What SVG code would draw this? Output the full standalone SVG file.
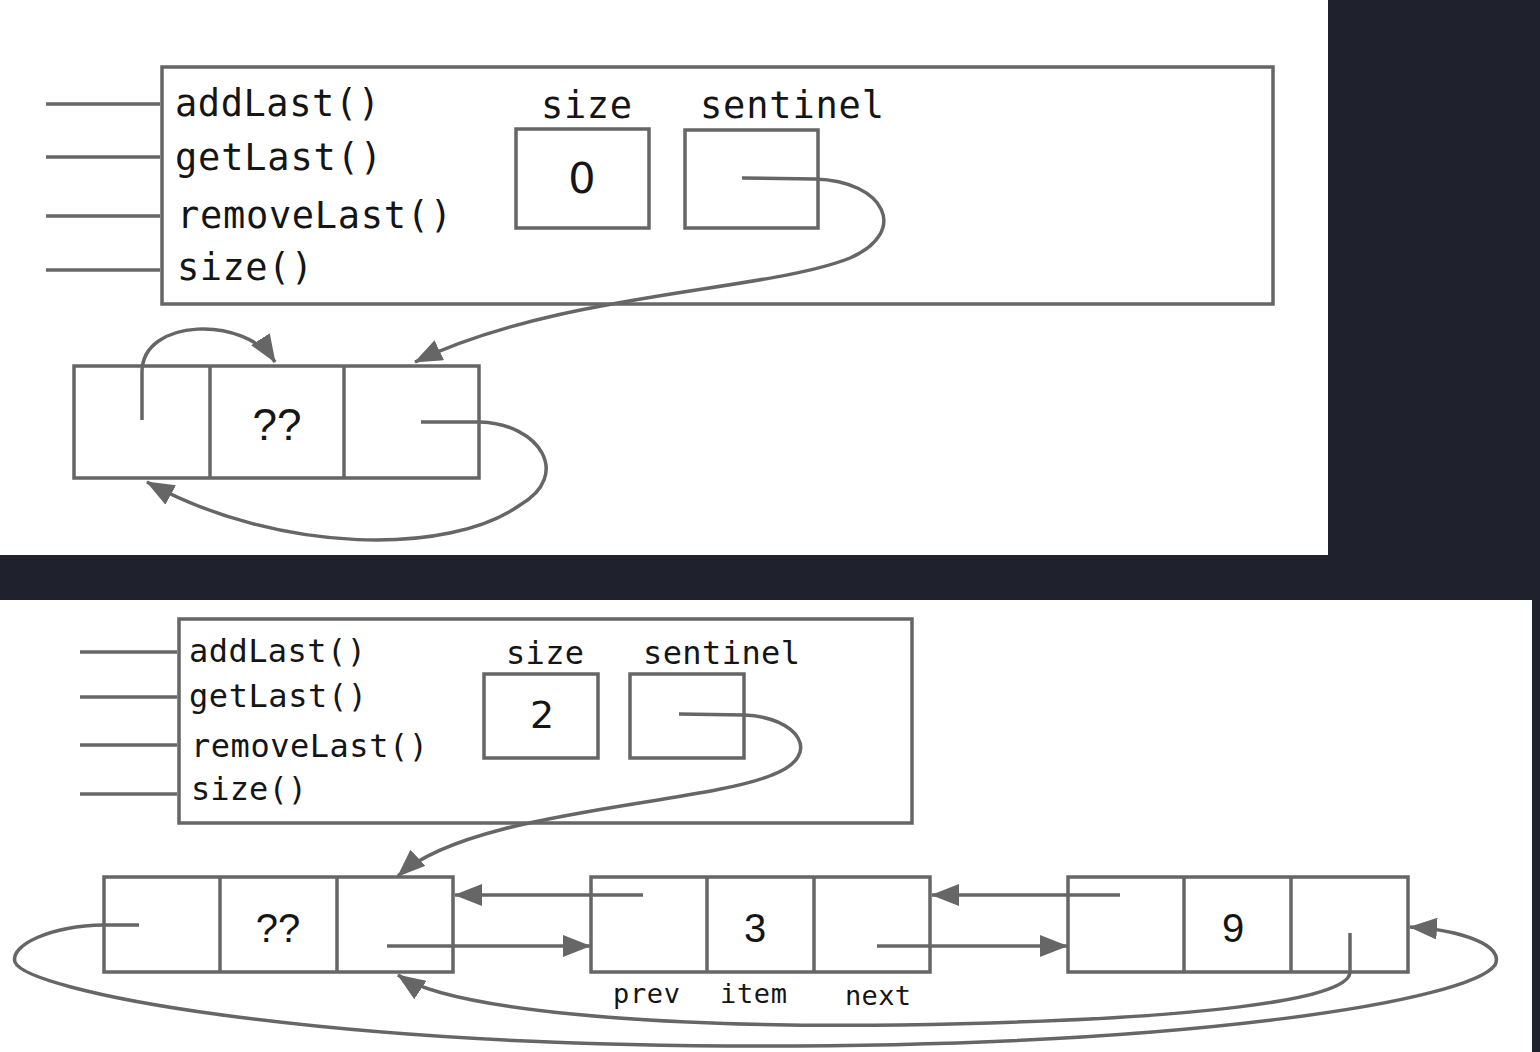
<svg xmlns="http://www.w3.org/2000/svg" width="1540" height="1052" viewBox="0 0 1540 1052">
<style>
.box{fill:#fff;stroke:#666;stroke-width:3.5}
.ln{fill:none;stroke:#666;stroke-width:3.5}
.mono{font-family:"DejaVu Sans Mono","Liberation Mono",monospace;fill:#151515}
.num{font-family:"DejaVu Sans","Liberation Sans",sans-serif;fill:#151515}
.sans{font-family:"Liberation Sans",Arial,sans-serif;fill:#151515}
</style>
<defs>
<marker id="ah" markerUnits="userSpaceOnUse" viewBox="0 0 28 22" refX="27" refY="11" markerWidth="28" markerHeight="22" orient="auto">
<path d="M0,0 L28,11 L0,22 z" fill="#666"/>
</marker>
</defs>
<rect x="0" y="0" width="1540" height="1052" fill="#1f212d"/>
<rect x="0" y="0" width="1328" height="555" fill="#fff"/>
<rect x="0" y="600" width="1532" height="452" fill="#fff"/>

<!-- TOP PANEL -->
<g id="top-list">
<rect class="box" x="162" y="67" width="1111" height="237"/>
<line class="ln" x1="46" y1="104" x2="160" y2="104"/>
<line class="ln" x1="46" y1="157" x2="160" y2="157"/>
<line class="ln" x1="46" y1="216" x2="160" y2="216"/>
<line class="ln" x1="46" y1="270" x2="160" y2="270"/>
<text class="mono" x="175" y="116" font-size="37" textLength="205" lengthAdjust="spacing">addLast()</text>
<text class="mono" x="175" y="170" font-size="37" textLength="207" lengthAdjust="spacing">getLast()</text>
<text class="mono" x="177" y="228" font-size="37" textLength="275" lengthAdjust="spacing">removeLast()</text>
<text class="mono" x="177" y="280" font-size="37" textLength="136" lengthAdjust="spacing">size()</text>
<text class="mono" x="541" y="118" font-size="37" textLength="91" lengthAdjust="spacing">size</text>
<text class="mono" x="700" y="118" font-size="37" textLength="184" lengthAdjust="spacing">sentinel</text>
</g>
<g id="top-size">
<rect class="box" x="516" y="129" width="133" height="99"/>
<text class="num" x="582" y="193" font-size="43" text-anchor="middle">0</text>
</g>
<g id="top-sentinel">
<rect class="box" x="685" y="130" width="133" height="98"/>
</g>
<g id="top-node">
<rect class="box" x="74" y="366" width="405" height="112"/>
<line class="ln" x1="210" y1="366" x2="210" y2="478"/>
<line class="ln" x1="344" y1="366" x2="344" y2="478"/>
<text class="sans" x="277" y="440" font-size="44" text-anchor="middle">??</text>
</g>
<g id="top-connectors">
<path class="ln" d="M742,178 L815,179 C885,181 910,232 850,258 C765,292 560,292 415,362" marker-end="url(#ah)"/>
<path class="ln" d="M142,420 L142,372 C142,318 245,315 275,362" marker-end="url(#ah)"/>
<path class="ln" d="M421,422 L480,422 C540,424 572,475 520,505 C450,555 280,555 147,482" marker-end="url(#ah)"/>
</g>

<!-- BOTTOM PANEL -->
<g id="bot-list">
<rect class="box" x="179" y="619" width="733" height="204"/>
<line class="ln" x1="80" y1="652" x2="177" y2="652"/>
<line class="ln" x1="80" y1="697" x2="177" y2="697"/>
<line class="ln" x1="80" y1="745" x2="177" y2="745"/>
<line class="ln" x1="80" y1="794" x2="177" y2="794"/>
<text class="mono" x="189" y="662" font-size="32" textLength="177" lengthAdjust="spacing">addLast()</text>
<text class="mono" x="189" y="707" font-size="32" textLength="178" lengthAdjust="spacing">getLast()</text>
<text class="mono" x="191" y="757" font-size="32" textLength="237" lengthAdjust="spacing">removeLast()</text>
<text class="mono" x="191" y="800" font-size="32" textLength="116" lengthAdjust="spacing">size()</text>
<text class="mono" x="506" y="664" font-size="32" textLength="78" lengthAdjust="spacing">size</text>
<text class="mono" x="643" y="664" font-size="32" textLength="157" lengthAdjust="spacing">sentinel</text>
</g>
<g id="bot-size">
<rect class="box" x="484" y="674" width="114" height="84"/>
<text class="num" x="542" y="728" font-size="38" text-anchor="middle">2</text>
</g>
<g id="bot-sentinel">
<rect class="box" x="630" y="674" width="114" height="84"/>
</g>
<g id="node-sentinel">
<rect class="box" x="104" y="877" width="349" height="95"/>
<line class="ln" x1="220" y1="877" x2="220" y2="972"/>
<line class="ln" x1="337" y1="877" x2="337" y2="972"/>
<text class="sans" x="278" y="942" font-size="40" text-anchor="middle">??</text>
</g>
<g id="node-3">
<rect class="box" x="591" y="877" width="339" height="95"/>
<line class="ln" x1="707" y1="877" x2="707" y2="972"/>
<line class="ln" x1="814" y1="877" x2="814" y2="972"/>
<text class="sans" x="755" y="942" font-size="40" text-anchor="middle">3</text>
<text class="mono" x="613" y="1003" font-size="27" textLength="67" lengthAdjust="spacing">prev</text>
<text class="mono" x="720" y="1003" font-size="27" textLength="67" lengthAdjust="spacing">item</text>
<text class="mono" x="845" y="1005" font-size="27" textLength="66" lengthAdjust="spacing">next</text>
</g>
<g id="node-9">
<rect class="box" x="1068" y="877" width="340" height="95"/>
<line class="ln" x1="1184" y1="877" x2="1184" y2="972"/>
<line class="ln" x1="1291" y1="877" x2="1291" y2="972"/>
<text class="sans" x="1233" y="942" font-size="40" text-anchor="middle">9</text>
</g>
<g id="bot-connectors">
<path class="ln" d="M679,714 L744,715 C798,717 825,755 772,775 C700,805 470,810 398,876" marker-end="url(#ah)"/>
<path class="ln" d="M643,895 L455,895" marker-end="url(#ah)"/>
<path class="ln" d="M387,946 L590,946" marker-end="url(#ah)"/>
<path class="ln" d="M1120,895 L932,895" marker-end="url(#ah)"/>
<path class="ln" d="M877,946 L1067,946" marker-end="url(#ah)"/>
<path class="ln" d="M139,925 L104,925 C50,926 10,945 15,962 C25,990 300,1046 760,1046 C1200,1046 1470,1000 1495,965 C1505,945 1460,930 1410,927" marker-end="url(#ah)"/>
<path class="ln" d="M1350,933 L1350,972 C1350,1000 1200,1020 900,1025 C650,1028 450,1010 398,975" marker-end="url(#ah)"/>
</g>
</svg>
